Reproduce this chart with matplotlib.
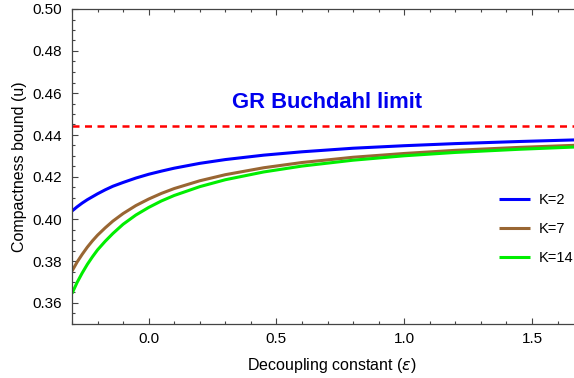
import matplotlib
matplotlib.use("Agg")
import matplotlib.pyplot as plt
from matplotlib.ticker import MultipleLocator

plt.rcParams['font.family'] = ['Liberation Sans', 'DejaVu Sans']

eps = [-0.30, -0.28, -0.26, -0.24, -0.22, -0.20, -0.17, -0.14, -0.10, -0.05, 0.00, 0.05, 0.10, 0.20,
       0.30, 0.45, 0.60, 0.80, 1.00, 1.20, 1.45, 1.735]
u_k2 = [0.4038, 0.4058, 0.4076, 0.4092, 0.4106, 0.4120, 0.4139, 0.4156, 0.4174, 0.4195, 0.4213, 0.4228, 0.4242, 0.4265,
        0.4283, 0.4304, 0.4320, 0.4337, 0.4349, 0.4359, 0.4369, 0.4379]
u_k7 = [0.3752, 0.3795, 0.3832, 0.3866, 0.3896, 0.3923, 0.3958, 0.3990, 0.4026, 0.4064, 0.4095, 0.4122, 0.4145, 0.4182,
        0.4211, 0.4244, 0.4269, 0.4294, 0.4312, 0.4327, 0.4341, 0.4354]
u_k14 = [0.3645, 0.3698, 0.3743, 0.3784, 0.3820, 0.3853, 0.3894, 0.3931, 0.3975, 0.4019, 0.4055, 0.4086, 0.4112, 0.4154,
         0.4187, 0.4224, 0.4252, 0.4280, 0.4301, 0.4317, 0.4332, 0.4346]
labels = ["K=2", "K=7", "K=14"]
colors = ["#0000ff", "#996633", "#00ee00"]
buchdahl = 4.0 / 9.0

fig = plt.figure(figsize=(5.74, 3.78), dpi=100)
W, H = 574, 378
ax = fig.add_axes([72 / W, 1 - 324 / H, (592 - 72) / W, (324 - 9) / H])

for u, lab, c in zip([u_k2, u_k7, u_k14], labels, colors):
    ax.plot(eps, u, color=c, lw=2.2, label=lab, solid_capstyle='butt')

ax.axhline(buchdahl, color='#ff0000', lw=1.8, dashes=(2.8, 2.2))
ax.text(0.70, 0.4557, "GR Buchdahl limit", color='#0000ee', fontsize=15.8,
        fontweight='bold', ha='center', va='center')

ax.set_xlim(-0.30, 1.735)
ax.set_ylim(0.35, 0.50)
ax.xaxis.set_major_locator(MultipleLocator(0.5))
ax.xaxis.set_minor_locator(MultipleLocator(0.1))
ax.yaxis.set_major_locator(MultipleLocator(0.02))
ax.yaxis.set_minor_locator(MultipleLocator(0.005))
ax.xaxis.set_major_formatter(plt.FuncFormatter(lambda v, p: f"{v:.1f}"))
ax.yaxis.set_major_formatter(plt.FuncFormatter(lambda v, p: f"{v:.2f}"))

ax.tick_params(which='both', direction='in', top=True, right=False, colors='#444444',
               labelcolor='black', labelsize=11, width=0.8)
ax.tick_params(which='major', length=4.5)
ax.tick_params(which='minor', length=2.5)
ax.tick_params(axis='x', pad=6)
ax.tick_params(axis='y', pad=7)
for s in ['left', 'bottom', 'top']:
    ax.spines[s].set_color('#444444')
    ax.spines[s].set_linewidth(0.9)
ax.spines['right'].set_visible(False)

ax.set_xlabel("Decoupling constant ($\\epsilon$)", fontsize=11.5, labelpad=7)
ax.set_ylabel("Compactness bound (u)", fontsize=11.5, labelpad=4)

leg = ax.legend(loc='center left', bbox_to_anchor=((499 - 72) / (592 - 72), (324 - 229) / 315),
                frameon=False, fontsize=10.5, handlelength=2.1, handletextpad=0.6,
                labelspacing=1.05, borderpad=0, borderaxespad=0)

fig.savefig("out.png", dpi=100)
